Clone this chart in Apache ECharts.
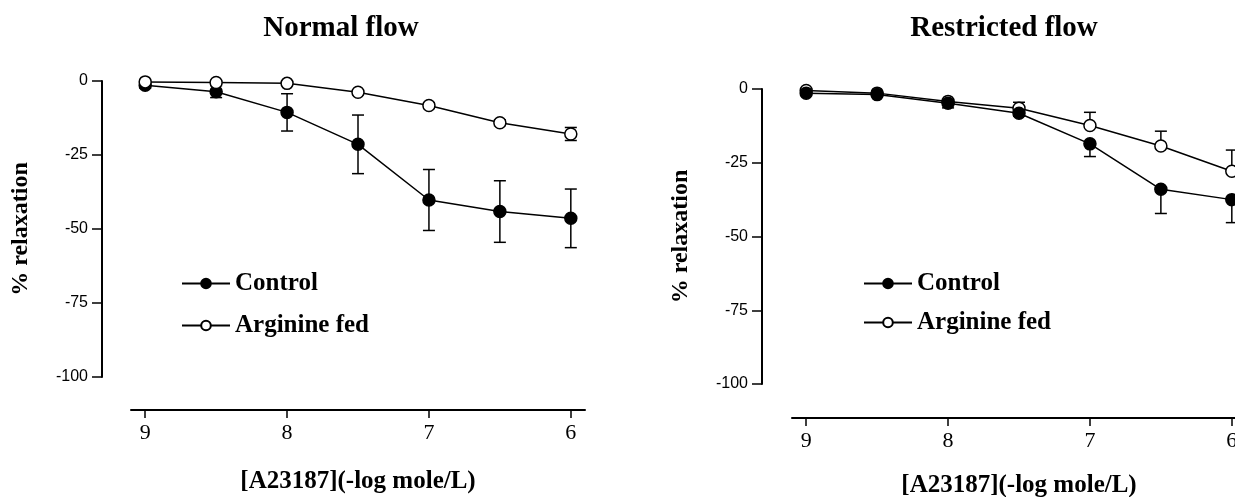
<!DOCTYPE html>
<html>
<head>
<meta charset="utf-8">
<script src="https://cdn.jsdelivr.net/npm/echarts@6/dist/echarts.min.js"></script>
<style>
  html, body, #main { width: 100%; height: 100%; margin: 0; background: #fff; }
</style>
</head>
<body>
<div id="main"></div>
<script>
// x: dose of A23187, -log mole/L
var doses = [9, 8.5, 8, 7.5, 7, 6.5, 6];
var xTicks = [9, 8, 7, 6];

// Normal flow panel
var normalControl = [-1.4, -3.6, -10.6, -21.4, -40.2, -44.1, -46.4];
var normalControlErr = [1, 2, 6.3, 9.9, 10.3, 10.4, 9.9];
var normalArginine = [-0.3, -0.5, -0.8, -3.8, -8.3, -14.1, -17.9];
var normalArginineErr = [0.5, 0.5, 0.5, 0.8, 1, 1, 2.2];

// Restricted flow panel
var restrictedControl = [-1.4, -1.9, -4.8, -8.2, -18.6, -34, -37.5];
var restrictedControlErr = [0.5, 0.5, 1.6, 1, 4.3, 8.2, 7.8];
var restrictedArginine = [-0.5, -1.4, -4.2, -6.5, -12.4, -19.3, -27.9];
var restrictedArginineErr = [0.5, 0.5, 0.5, 2, 4.5, 5, 7.2];

var chart = echarts.init(document.getElementById('main'));

var serif = 'Liberation Serif';
var black = '#000';

function lineSeries(name, idx, ys, filled) {
    return {
        name: name,
        type: 'line',
        xAxisIndex: idx,
        yAxisIndex: idx,
        data: doses.map(function (d, i) { return [d, ys[i]]; }),
        symbol: 'circle',
        symbolSize: 12,
        showAllSymbol: true,
        lineStyle: { color: black, width: 1.5 },
        itemStyle: { color: filled ? black : '#fff', borderColor: black, borderWidth: 1.5 },
        z: 3
    };
}

// dir: 0 both sides, 1 up only, -1 down only
function errorSeries(idx, ys, errs, dir) {
    return {
        type: 'custom',
        xAxisIndex: idx,
        yAxisIndex: idx,
        silent: true,
        z: 1,
        data: doses.map(function (d, i) { return [d, ys[i], errs[i]]; }),
        encode: { x: 0, y: 1 },
        renderItem: function (params, api) {
            var x = api.value(0), y = api.value(1), e = api.value(2);
            var top = api.coord([x, dir < 0 ? y : y + e]);
            var bot = api.coord([x, dir > 0 ? y : y - e]);
            var w = 6;
            var style = { stroke: black, lineWidth: 1.5 };
            var kids = [{ type: 'line', shape: { x1: top[0], y1: top[1], x2: bot[0], y2: bot[1] }, style: style }];
            if (dir >= 0) kids.push({ type: 'line', shape: { x1: top[0] - w, y1: top[1], x2: top[0] + w, y2: top[1] }, style: style });
            if (dir <= 0) kids.push({ type: 'line', shape: { x1: bot[0] - w, y1: bot[1], x2: bot[0] + w, y2: bot[1] }, style: style });
            return { type: 'group', children: kids };
        }
    };
}

function xAxis(idx, offset, gap) {
    return {
        type: 'value',
        gridIndex: idx,
        min: 5.9,
        max: 9.1,
        inverse: true,
        offset: offset,
        name: '[A23187](-log mole/L)',
        nameLocation: 'middle',
        nameGap: gap,
        nameTextStyle: { fontFamily: serif, fontWeight: 'bold', fontSize: 25, color: black },
        axisLine: { show: true, onZero: false, lineStyle: { color: black, width: 2 } },
        axisTick: { show: true, customValues: xTicks, length: 8, lineStyle: { color: black, width: 1.5 } },
        axisLabel: { customValues: xTicks, margin: 12, fontFamily: serif, fontSize: 22, color: black },
        splitLine: { show: false }
    };
}

function yAxis(idx, offset) {
    return {
        type: 'value',
        gridIndex: idx,
        min: -100,
        max: 0,
        interval: 25,
        offset: offset,
        name: '% relaxation',
        nameLocation: 'middle',
        nameRotate: 90,
        nameGap: 69,
        nameTextStyle: { fontFamily: serif, fontWeight: 'bold', fontSize: 24, color: black },
        axisLine: { show: true, onZero: false, lineStyle: { color: black, width: 2 } },
        axisTick: { show: true, length: 10, lineStyle: { color: black, width: 1.5 } },
        axisLabel: { margin: 14, fontFamily: 'Liberation Sans', fontSize: 16, color: black },
        splitLine: { show: false }
    };
}

function legend(left, top, gap) {
    return {
        orient: 'vertical',
        left: left,
        top: top,
        padding: 0,
        itemGap: gap,
        itemWidth: 48,
        itemHeight: 12,
        data: ['Control', 'Arginine fed'],
        textStyle: { fontFamily: serif, fontWeight: 'bold', fontSize: 25, color: black }
    };
}

chart.setOption({
    animation: false,
    backgroundColor: '#fff',
    title: [
        { text: 'Normal flow', left: 341, top: 14, textAlign: 'center', padding: 0,
          textStyle: { fontFamily: serif, fontWeight: 'bold', fontSize: 29, color: black } },
        { text: 'Restricted flow', left: 1004, top: 14, textAlign: 'center', padding: 0,
          textStyle: { fontFamily: serif, fontWeight: 'bold', fontSize: 29, color: black } }
    ],
    legend: [legend(181, 271, 17), legend(863, 271, 14)],
    grid: [
        { left: 131, top: 81, width: 454, height: 296, outerBoundsMode: 'none' },
        { left: 792, top: 89, width: 454, height: 295, outerBoundsMode: 'none' }
    ],
    xAxis: [xAxis(0, 33, 59), xAxis(1, 34, 55)],
    yAxis: [yAxis(0, 29), yAxis(1, 30)],
    series: [
        errorSeries(0, normalControl, normalControlErr, 0),
        errorSeries(0, normalArginine, normalArginineErr, 0),
        lineSeries('Control', 0, normalControl, true),
        lineSeries('Arginine fed', 0, normalArginine, false),
        errorSeries(1, restrictedControl, restrictedControlErr, -1),
        errorSeries(1, restrictedArginine, restrictedArginineErr, 1),
        lineSeries('Arginine fed', 1, restrictedArginine, false),
        lineSeries('Control', 1, restrictedControl, true)
    ]
});
</script>
</body>
</html>
